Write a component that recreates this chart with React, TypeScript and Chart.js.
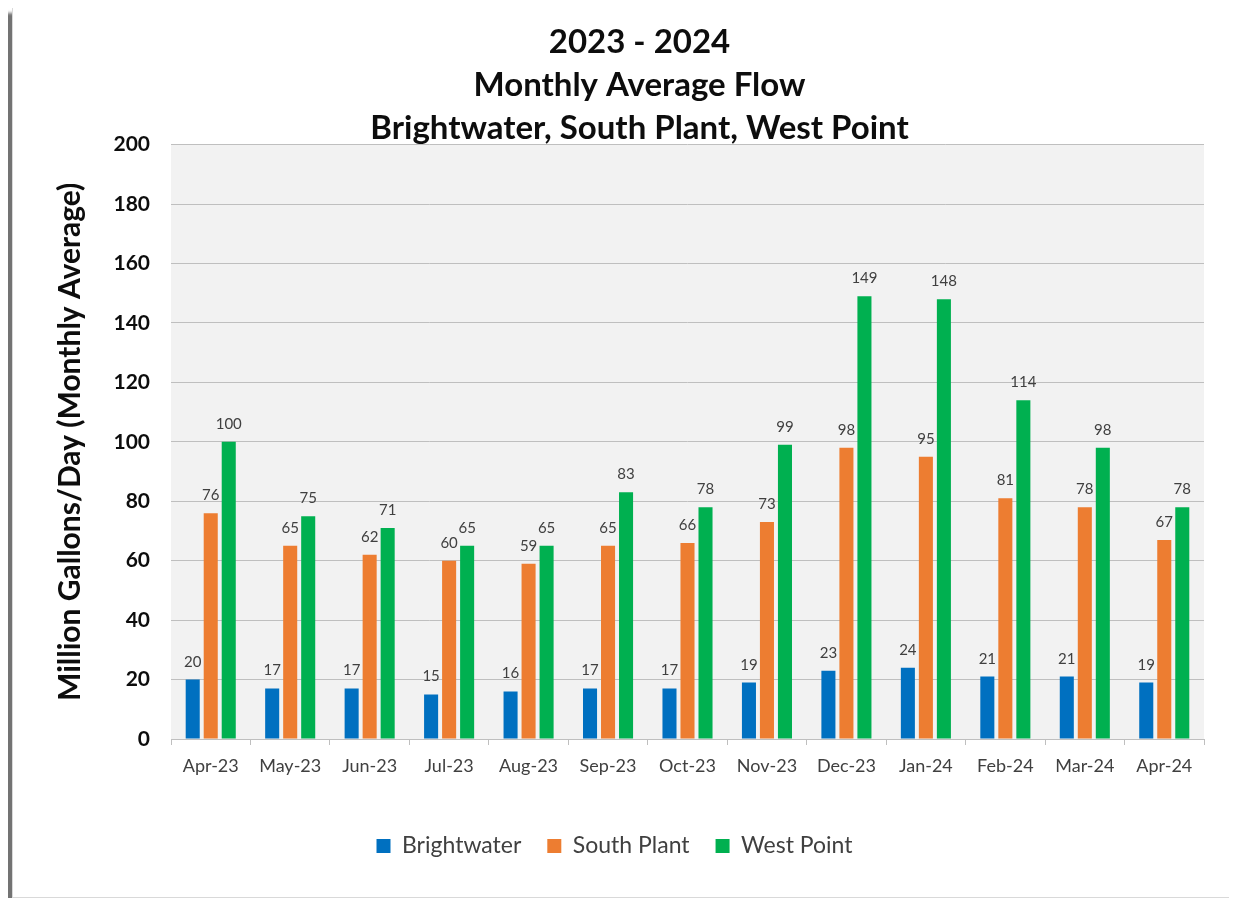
import React, { useEffect, useRef } from "react";
import { Chart, registerables } from "chart.js";

Chart.register(...registerables);

const months = ["Apr-23", "May-23", "Jun-23", "Jul-23", "Aug-23", "Sep-23", "Oct-23", "Nov-23", "Dec-23", "Jan-24", "Feb-24", "Mar-24", "Apr-24"];
const brightwater = [20, 17, 17, 15, 16, 17, 17, 19, 23, 24, 21, 21, 19];
const southPlant = [76, 65, 62, 60, 59, 65, 66, 73, 98, 95, 81, 78, 67];
const westPoint = [100, 75, 71, 65, 65, 83, 78, 99, 149, 148, 114, 98, 78];
const titleLines = ["2023 - 2024", "Monthly Average Flow", "Brightwater, South Plant, West Point"];
const yAxisTitle = "Million Gallons/Day (Monthly Average)";
const yMin = 0;
const yMax = 200;
const yStep = 20;

const FONT = "Lato, 'Open Sans', sans-serif";

const plotBackground = {
  id: "plotBackground",
  beforeDraw(chart: any) {
    const { ctx, chartArea } = chart;
    if (!chartArea) return;
    ctx.save();
    ctx.fillStyle = "#f2f2f2";
    ctx.fillRect(chartArea.left, chartArea.top, chartArea.right - chartArea.left, chartArea.bottom - chartArea.top);
    ctx.restore();
  },
};

const dataLabels = {
  id: "dataLabels",
  afterDatasetsDraw(chart: any) {
    const ctx = chart.ctx;
    ctx.save();
    ctx.font = `15px ${FONT}`;
    ctx.fillStyle = "#404040";
    ctx.textAlign = "center";
    ctx.textBaseline = "alphabetic";
    chart.data.datasets.forEach((ds: any, i: number) => {
      const meta = chart.getDatasetMeta(i);
      meta.data.forEach((el: any, j: number) => {
        ctx.fillText(String(Math.round(ds.data[j])), el.x, el.y - 13);
      });
    });
    ctx.restore();
  },
};

const shiftBlocks = {
  id: "shiftBlocks",
  afterLayout(chart: any) {
    const t = chart.titleBlock;
    if (t) {
      t.left += 21;
      t.right += 21;
    }
    const l = chart.legend;
    if (l) {
      l.left -= 4;
      l.right -= 4;
    }
  },
};

export default function App() {
  const ref = useRef<HTMLCanvasElement | null>(null);

  useEffect(() => {
    if (!ref.current) return;
    const chart = new Chart(ref.current, {
      type: "bar",
      data: {
        labels: months,
        datasets: [
          { label: "Brightwater", data: brightwater, backgroundColor: "#0070C0", categoryPercentage: 0.68, barPercentage: 0.78 },
          { label: "South Plant", data: southPlant, backgroundColor: "#ED7D31", categoryPercentage: 0.68, barPercentage: 0.78 },
          { label: "West Point", data: westPoint, backgroundColor: "#00B050", categoryPercentage: 0.68, barPercentage: 0.78 },
        ],
      },
      options: {
        responsive: false,
        animation: false,
        layout: { padding: { left: 20, right: 27, top: 10, bottom: 29.5 } },
        plugins: {
          title: {
            display: true,
            text: titleLines,
            color: "#0d0d0d",
            font: { family: FONT, size: 33, weight: "bold", lineHeight: 1.3 },
            padding: { top: 3, bottom: -5 },
          },
          legend: {
            position: "bottom",
            labels: {
              boxWidth: 14,
              boxHeight: 14,
              padding: 26,
              color: "#404040",
              font: { family: FONT, size: 23 },
            },
          },
          tooltip: { enabled: false },
        },
        scales: {
          x: {
            offset: true,
            grid: { display: true, offset: true, drawOnChartArea: false, drawTicks: true, tickLength: 6, color: "#bfbfbf" },
            border: { display: true, color: "#bfbfbf" },
            ticks: { color: "#404040", font: { family: FONT, size: 18 }, padding: 10, maxRotation: 0, autoSkip: false },
            afterFit(scale: any) {
              scale.height = 69.5;
            },
          },
          y: {
            min: yMin,
            max: yMax,
            grid: { color: "#bfbfbf", drawTicks: false },
            border: { display: false },
            ticks: { stepSize: yStep, color: "#0d0d0d", font: { family: FONT, size: 21, weight: "bold" }, padding: 21 },
            title: {
              display: true,
              text: yAxisTitle,
              color: "#0d0d0d",
              font: { family: FONT, size: 30, weight: "bold", lineHeight: 1.2 },
              padding: { top: 19, bottom: 0 },
            },
            afterFit(scale: any) {
              scale.width = 138;
            },
          },
        },
      },
      plugins: [plotBackground, dataLabels, shiftBlocks],
    });
    return () => chart.destroy();
  }, []);

  return (
    <div
      style={{
        width: 1218,
        height: 889,
        marginLeft: 4,
        marginTop: -1,
        border: "1px solid #d9d9d9",
        boxShadow: "-9px 6px 3px rgba(0,0,0,0.55)",
        background: "#ffffff",
      }}
    >
      <canvas ref={ref} width={1218} height={889} style={{ display: "block" }} />
    </div>
  );
}
